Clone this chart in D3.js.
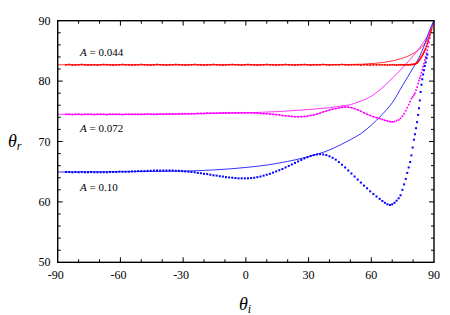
<!DOCTYPE html>
<html>
<head>
<meta charset="utf-8">
<script src="https://cdn.jsdelivr.net/npm/d3@7"></script>
<style>
  body { margin: 0; background: #fff; }
</style>
</head>
<body>
<svg id="chart" width="450" height="315"></svg>
<script>
// incidence angles of the measured points (shared by the three series)
const thetaI = [
  -86,-84.5,-83,-81.5,-80,-78.5,-77,-75.5,-74,-72.5,
  -71,-69.5,-68,-66.5,-65,-63.5,-62,-60.5,-59,-57.5,
  -56,-54.5,-53,-51.5,-50,-48.5,-47,-45.5,-44,-42.5,
  -41,-39.5,-38,-36.5,-35,-33.5,-32,-30.5,-29,-27.5,
  -26,-24.5,-23,-21.5,-20,-18.5,-17,-15.5,-14,-12.5,
  -11,-9.5,-8,-6.5,-5,-3.5,-2,-0.5,1,2.5,
  4,5.5,7,8.5,10,11.5,13,14.5,16,17.5,
  19,20.5,22,23.5,25,26.5,28,29.5,31,32.5,
  34,35.5,37,38.5,40,41.5,43,44.5,46,47.5,
  49,50.5,52,53.5,55,56.5,58,59.5,61,62.5,
  64,
  65.3,66.5,67.7,68.9,70,71.1,72.1,73.1,74,74.9,
  75.7,76.5,77.2,77.9,78.6,79.2,79.8,80.4,80.9,81.4,
  81.9,82.4,82.8,83.2,83.6,84,84.4,84.8,85.2,85.6,
  86,86.4,86.8,
  87.2,87.6,88,88.4,88.8
];

// measured reflection angles
const redPoints = [
  82.7,82.75,82.65,82.7,82.7,82.75,82.7,82.65,82.7,82.7,
  82.65,82.7,82.75,82.7,82.7,82.65,82.7,82.7,82.75,82.7,
  82.7,82.65,82.7,82.7,82.75,82.7,82.7,82.65,82.7,82.75,
  82.7,82.7,82.65,82.7,82.7,82.75,82.7,82.7,82.65,82.7,
  82.7,82.75,82.7,82.7,82.65,82.7,82.7,82.75,82.7,82.7,
  82.65,82.7,82.7,82.75,82.7,82.7,82.65,82.7,82.75,82.7,
  82.7,82.65,82.7,82.7,82.75,82.7,82.7,82.65,82.7,82.7,
  82.75,82.7,82.7,82.65,82.7,82.7,82.75,82.7,82.65,82.7,
  82.7,82.7,82.75,82.7,82.65,82.7,82.7,82.7,82.75,82.7,
  82.65,82.7,82.7,82.7,82.65,82.7,82.7,82.65,82.7,82.7,
  82.7,
  82.7,82.7,82.65,82.7,82.7,82.7,82.65,82.7,82.7,82.7,
  82.7,82.7,82.7,82.7,82.7,82.75,82.75,82.8,82.8,82.9,
  83.0,83.2,83.4,83.6,83.8,84.0,84.25,84.5,84.8,85.1,
  85.4,85.8,86.2,
  86.6,87.1,87.6,88.1,88.6
];
const magentaPoints = [
  74.5,74.5,74.45,74.5,74.5,74.45,74.5,74.5,74.5,74.45,
  74.5,74.5,74.5,74.45,74.5,74.5,74.5,74.5,74.45,74.5,
  74.5,74.5,74.5,74.5,74.5,74.5,74.55,74.5,74.5,74.5,
  74.55,74.5,74.55,74.55,74.55,74.55,74.55,74.6,74.6,74.6,
  74.6,74.6,74.65,74.65,74.65,74.7,74.7,74.7,74.7,74.75,
  74.75,74.75,74.75,74.75,74.75,74.75,74.75,74.75,74.75,74.75,
  74.7,74.7,74.65,74.6,74.6,74.55,74.5,74.45,74.4,74.3,
  74.25,74.2,74.15,74.1,74.1,74.1,74.15,74.2,74.3,74.4,
  74.55,74.7,74.9,75.05,75.2,75.35,75.45,75.55,75.65,75.7,
  75.7,75.6,75.45,75.25,75.0,74.75,74.5,74.3,74.1,73.95,
  73.8,
  73.65,73.5,73.4,73.3,73.25,73.3,73.45,73.6,73.85,74.2,
  74.6,75.1,75.6,76.1,76.6,77.1,77.4,77.7,78.0,78.5,
  79.0,79.6,80.1,80.5,80.9,81.4,81.9,82.4,82.9,83.5,
  84.0,84.6,85.1,
  85.7,86.4,87.2
];
const bluePoints = [
  64.95,64.95,64.9,64.95,64.9,64.95,64.9,64.9,64.95,64.9,
  64.9,64.9,64.9,64.9,64.95,64.95,64.95,65.0,65.0,65.0,
  65.0,65.05,65.05,65.1,65.1,65.1,65.15,65.15,65.2,65.2,
  65.2,65.2,65.2,65.2,65.2,65.15,65.15,65.1,65.05,65.0,
  64.95,64.9,64.8,64.75,64.65,64.6,64.5,64.4,64.35,64.25,
  64.2,64.1,64.05,64.0,63.95,63.9,63.9,63.9,63.9,63.95,
  64.0,64.1,64.2,64.35,64.5,64.65,64.85,65.05,65.25,65.45,
  65.7,65.95,66.2,66.45,66.7,66.95,67.2,67.4,67.6,67.75,
  67.85,67.9,67.85,67.75,67.55,67.3,67.0,66.6,66.15,65.7,
  65.2,64.7,64.2,63.7,63.2,62.7,62.25,61.75,61.3,60.9,
  60.5,
  60.15,59.85,59.6,59.5,59.6,59.85,60.2,60.6,61.1,62.0,
  62.9,63.8,64.8,65.7,66.6,67.7,69.0,70.3,71.2,72.2,
  73.2,74.4,75.5,76.8,78.2,79.4,80.3,81.1,81.8,82.5,
  83.1,83.8,84.4
];

// model curves (incidence angle, reflection angle)
const redModelX = [-90,-30,20,40,50,56,62,66,70,74,77,80,82,84,86,88,89,90];
const redModelY = [82.7,82.7,82.7,82.72,82.75,82.8,82.95,83.1,83.35,83.7,84.05,84.55,85.0,85.6,86.4,87.7,88.7,90];
const magentaModelX = [-90,-50,-20,0,15,30,40,45,50,55,60,64.3,68,72.2,76,80.1,84.9,88,90];
const magentaModelY = [74.5,74.5,74.6,74.75,74.95,75.3,75.6,75.85,76.1,76.7,77.5,78.6,79.8,81.2,82.6,84.2,86.4,88.2,90];
const blueModelX = [-90,-60,-30,-15,0,10,20,30,40,45,50,55,60,65,70,75,80,83.4,85,88.2,90];
const blueModelY = [64.95,65.0,65.1,65.3,65.7,66.1,66.7,67.5,68.6,69.4,70.3,71.3,72.7,74.4,76.4,79.3,82.2,84.3,85.6,88.7,90];

const xTicks = [-90, -60, -30, 0, 30, 60, 90];
const yTicks = [50, 60, 70, 80, 90];
const labels = ["0.044", "0.072", "0.10"];

const series = [
  { color: "#ff0000", pts: redPoints, mx: redModelX, my: redModelY, dense: 89, label: labels[0] },
  { color: "#ff00ff", pts: magentaPoints, mx: magentaModelX, my: magentaModelY, dense: 72, label: labels[1] },
  { color: "#0000ff", pts: bluePoints, mx: blueModelX, my: blueModelY, dense: -100, label: labels[2] }
];
const labelPos = [[80, 55.5], [80, 132], [80, 191]];

const FONT = "'Liberation Serif', 'Times New Roman', Times, 'DejaVu Serif', serif";

const svg = d3.select("#chart");
const margin = { left: 57.7, right: 434, top: 20.7, bottom: 262.3 };

const x = d3.scaleLinear().domain([-90, 90]).range([margin.left, margin.right]);
const y = d3.scaleLinear().domain([50, 90]).range([margin.bottom, margin.top]);

const plot = svg.append("g");

// model lines
const line = d3.line()
  .x(d => x(d[0]))
  .y(d => y(d[1]))
  .curve(d3.curveMonotoneX);

series.forEach(s => {
  plot.append("path")
    .attr("d", line(s.mx.map((v, i) => [v, s.my[i]])))
    .attr("fill", "none")
    .attr("stroke", s.color)
    .attr("stroke-width", 0.8);
});

// measured points
series.forEach(s => {
  const pts = s.pts.map((v, i) => [thetaI[i], v]);
  const dense = pts.filter(d => d[0] <= s.dense);
  if (dense.length > 1) {
    plot.append("path")
      .attr("d", d3.line().x(d => x(d[0])).y(d => y(d[1]))(dense))
      .attr("fill", "none")
      .attr("stroke", s.color)
      .attr("stroke-opacity", 0.8)
      .attr("stroke-width", 1);
  }
  const sz = s.dense < 0 ? 2 : 1.7;
  plot.append("g")
    .selectAll("rect")
    .data(pts)
    .enter()
    .append("rect")
    .attr("x", d => x(d[0]) - sz / 2)
    .attr("y", d => y(d[1]) - sz / 2)
    .attr("width", sz)
    .attr("height", sz)
    .attr("fill", s.color);
});

// labels A = ...
series.forEach((s, i) => {
  const t = svg.append("text")
    .attr("x", labelPos[i][0])
    .attr("y", labelPos[i][1])
    .attr("font-family", FONT)
    .attr("font-size", 11)
    .attr("fill", "#000");
  t.append("tspan").attr("font-style", "italic").text("A");
  t.append("tspan").text(" = " + s.label);
});

// ticks, inward on all four sides
const ax = svg.append("g").attr("stroke", "#000").attr("stroke-width", 1);
const major = 5, minor = 3;
d3.range(-80, 90, 10).forEach(v => {
  const len = xTicks.includes(v) ? major : minor;
  ax.append("line").attr("x1", x(v)).attr("x2", x(v)).attr("y1", margin.bottom).attr("y2", margin.bottom - len);
  ax.append("line").attr("x1", x(v)).attr("x2", x(v)).attr("y1", margin.top).attr("y2", margin.top + len);
});
d3.range(52, 90, 2).forEach(v => {
  const len = yTicks.includes(v) ? major : minor;
  ax.append("line").attr("y1", y(v)).attr("y2", y(v)).attr("x1", margin.left).attr("x2", margin.left + len);
  ax.append("line").attr("y1", y(v)).attr("y2", y(v)).attr("x1", margin.right).attr("x2", margin.right - len);
});

// frame
svg.append("rect")
  .attr("x", margin.left).attr("y", margin.top)
  .attr("width", margin.right - margin.left).attr("height", margin.bottom - margin.top)
  .attr("fill", "none")
  .attr("stroke", "#000")
  .attr("stroke-width", 1.4);

// tick labels
svg.append("g").selectAll("text")
  .data(xTicks).enter().append("text")
  .attr("x", d => x(d) - (d < 0 ? 2 : 0))
  .attr("y", 279)
  .attr("text-anchor", "middle")
  .attr("font-family", FONT)
  .attr("font-size", 12)
  .text(d => d);

svg.append("g").selectAll("text")
  .data(yTicks).enter().append("text")
  .attr("x", 50.5)
  .attr("y", d => y(d) + 4)
  .attr("text-anchor", "end")
  .attr("font-family", FONT)
  .attr("font-size", 12)
  .text(d => d);

// axis titles
const yt = svg.append("text").attr("x", 8).attr("y", 147)
  .attr("font-family", FONT).attr("font-size", 18).attr("font-style", "italic");
yt.append("tspan").text("θ");
yt.append("tspan").attr("font-size", 12).attr("dy", 3).text("r");

const xt = svg.append("text").attr("x", 239).attr("y", 310)
  .attr("font-family", FONT).attr("font-size", 18).attr("font-style", "italic");
xt.append("tspan").text("θ");
xt.append("tspan").attr("font-size", 12).attr("dy", 3).text("i");
</script>
</body>
</html>
